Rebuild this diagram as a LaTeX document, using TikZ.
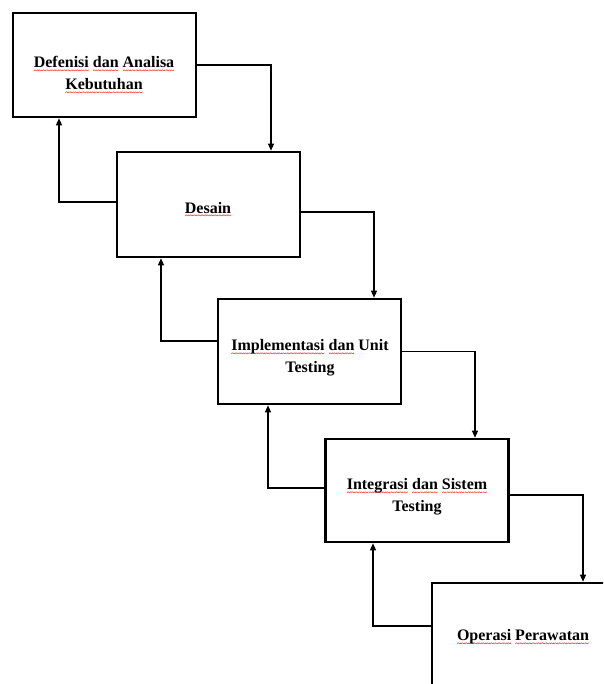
\documentclass[tikz,border=0pt]{standalone}
\usepackage{fontspec}
\setmainfont{Liberation Serif}
\usetikzlibrary{arrows.meta}

% red wavy underline (spell check marks)
\newcommand\redwave[1]{\setbox0\hbox{#1}\rlap{\raisebox{-5.5pt}[0pt][0pt]{\hbox to\wd0{\color{red}\fontsize{8}{8}\selectfont\bfseries\xleaders\hbox{\char`\~}\hfill}}}#1}

\begin{document}
\begin{tikzpicture}[x=1pt, y=-1pt, >={Triangle[length=7pt,width=6pt]},
  phase/.style={draw, line width=2.6pt, minimum width=183pt, minimum height=105pt, inner sep=0pt},
  lbl/.style={font=\bfseries\fontsize{16}{22}\selectfont, align=center},
  flow/.style={->, line width=1.2pt}]
  % Page
  \useasboundingbox (0,0) rectangle (603,684);
  \clip (0,0) rectangle (603,684);

  % Phase boxes
  \node[phase, minimum height=104pt] (b1) at (104.5,65) {};
  \node[phase] (b2) at (208.5,204.5) {};
  \node[phase] (b3) at (309.5,351.5) {};
  \node[phase, minimum height=103pt] (b4) at (417,490.5) {};
  \node[phase] (b5) at (523.5,635.5) {};

  % Labels
  \node[lbl] (t1) at (104,73) {\redwave{Defenisi} \redwave{dan} \redwave{Analisa}\\ \redwave{Kebutuhan}};
  \node[lbl] (t2) at (208,208) {\redwave{Desain}};
  \node[lbl] (t3) at (310,358) {\redwave{Implementasi} \redwave{dan} Unit\\ Testing};
  \node[lbl] (t4) at (417,497) {\redwave{Integrasi} \redwave{dan} \redwave{Sistem}\\ Testing};
  \node[lbl] (t5) at (523,637) {\redwave{Operasi} \redwave{Perawatan}};

  % Forward flow
  \draw[flow] (b1.east) -| ([xshift=62.5pt]b2.north);
  \draw[flow] ([yshift=-7.5pt]b2.east) -| ([xshift=64.5pt]b3.north);
  \draw[flow] (b3.east) -| ([xshift=58pt]b4.north);
  \draw[flow] ([yshift=-4.5pt]b4.east) -| ([xshift=59.5pt]b5.north);

  % Feedback
  \draw[flow] ([yshift=2.5pt]b2.west) -| ([xshift=-45.5pt]b1.south);
  \draw[flow] ([yshift=10.5pt]b3.west) -| ([xshift=-47.5pt]b2.south);
  \draw[flow] ([yshift=2.5pt]b4.west) -| ([xshift=-41.5pt]b3.south);
  \draw[flow] ([yshift=9.5pt]b5.west) -| ([xshift=-44pt]b4.south);
\end{tikzpicture}
\end{document}
